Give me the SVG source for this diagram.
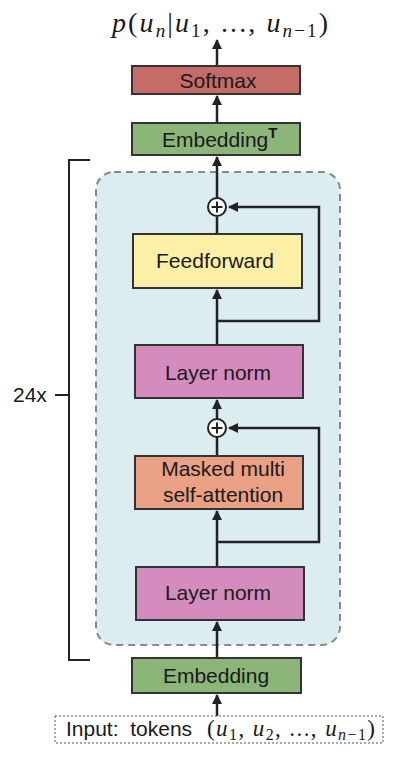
<svg xmlns="http://www.w3.org/2000/svg" width="402" height="758" viewBox="0 0 402 758">
<defs>
<style>
.box{stroke:#333;stroke-width:2}
.lbl{font-family:"Liberation Sans",Arial,sans-serif;font-size:21px;fill:#1a1a1a;text-anchor:middle}
.lbl.start{text-anchor:start}
.math{font-family:"Liberation Serif","Times New Roman",serif;font-style:italic;fill:#1a1a1a}
.up{font-style:normal}
.ln{stroke:#222;stroke-width:2.5;fill:none}
</style>
<marker id="ah" viewBox="0 0 10 10" refX="9" refY="5" markerWidth="4" markerHeight="4" orient="auto" markerUnits="strokeWidth">
<path d="M0,0 L10,5 L0,10 z" fill="#222"/>
</marker>
</defs>
<rect width="402" height="758" fill="#fff"/>

<g id="title">
<text class="math" x="112" y="32" font-size="28" textLength="216" lengthAdjust="spacing">p<tspan class="up">(</tspan>u<tspan font-size="19" dy="5">n</tspan><tspan class="up" dy="-5">|</tspan>u<tspan class="up" font-size="19" dy="5">1</tspan><tspan class="up" dy="-5">, ..., </tspan>u<tspan font-size="19" dy="5">n<tspan class="up">−1</tspan></tspan><tspan class="up" dy="-5">)</tspan></text>
</g>

<g id="bracket">
<path d="M90,160 H69 V660 H90 M55,395 H69" stroke="#222" stroke-width="2" fill="none"/>
<text x="13" y="402" font-family="Liberation Sans,Arial,sans-serif" font-size="21" fill="#1a1a1a">24x</text>
</g>

<g id="block">
<rect x="96" y="172" width="244" height="473" rx="18" fill="#dcedf1" stroke="#8a8a8a" stroke-width="2" stroke-dasharray="7,5"/>
</g>

<g id="connectors">
<line class="ln" x1="217" y1="66" x2="217" y2="40" marker-end="url(#ah)"/>
<line class="ln" x1="217" y1="123" x2="217" y2="96" marker-end="url(#ah)"/>
<line class="ln" x1="217" y1="198" x2="217" y2="157" marker-end="url(#ah)"/>
<line class="ln" x1="217" y1="234" x2="217" y2="217"/>
<line class="ln" x1="217" y1="345" x2="217" y2="290" marker-end="url(#ah)"/>
<polyline class="ln" points="217,321 319,321 319,207 229,207" marker-end="url(#ah)"/>
<line class="ln" x1="217" y1="419" x2="217" y2="400" marker-end="url(#ah)"/>
<line class="ln" x1="217" y1="456" x2="217" y2="437"/>
<line class="ln" x1="217" y1="567" x2="217" y2="511" marker-end="url(#ah)"/>
<polyline class="ln" points="217,542 319,542 319,428 229,428" marker-end="url(#ah)"/>
<line class="ln" x1="217" y1="658" x2="217" y2="622" marker-end="url(#ah)"/>
<line class="ln" x1="217" y1="716" x2="217" y2="695" marker-end="url(#ah)"/>
</g>

<g id="softmax">
<rect class="box" x="132" y="66" width="168" height="28" fill="#c56b68"/>
<text class="lbl" x="218" y="88">Softmax</text>
</g>

<g id="embedding-t">
<rect class="box" x="132" y="123" width="168" height="32" fill="#8cb57a"/>
<text class="lbl start" x="162" y="147">Embedding<tspan font-size="15" font-weight="bold" dy="-9">T</tspan></text>
</g>

<g id="add2">
<circle cx="217" cy="207" r="9" fill="#fff" stroke="#222" stroke-width="2"/>
<path d="M211.5,207 H222.5 M217,201.5 V212.5" stroke="#222" stroke-width="2"/>
</g>

<g id="feedforward">
<rect class="box" x="133" y="234" width="169" height="54" fill="#fcefa6"/>
<text class="lbl" x="215" y="268">Feedforward</text>
</g>

<g id="layernorm2">
<rect class="box" x="135" y="345" width="168" height="53" fill="#d48bbd"/>
<text class="lbl" x="218" y="380">Layer norm</text>
</g>

<g id="add1">
<circle cx="217" cy="428" r="9" fill="#fff" stroke="#222" stroke-width="2"/>
<path d="M211.5,428 H222.5 M217,422.5 V433.5" stroke="#222" stroke-width="2"/>
</g>

<g id="attention">
<rect class="box" x="135" y="456" width="168" height="53" fill="#e9a084"/>
<text class="lbl" x="223" y="476">Masked multi</text>
<text class="lbl" x="223" y="502">self-attention</text>
</g>

<g id="layernorm1">
<rect class="box" x="136" y="567" width="168" height="53" fill="#d48bbd"/>
<text class="lbl" x="218" y="600">Layer norm</text>
</g>

<g id="embedding">
<rect class="box" x="132" y="658" width="169" height="35" fill="#8cb57a"/>
<text class="lbl" x="216" y="683">Embedding</text>
</g>

<g id="input">
<rect x="55" y="716" width="328" height="27" fill="#fff" stroke="#555" stroke-width="1" stroke-dasharray="2,2"/>
<text x="66" y="736" font-family="Liberation Sans,Arial,sans-serif" font-size="21" fill="#1a1a1a" xml:space="preserve">Input:  tokens</text>
<text class="math" x="207" y="736" font-size="23" textLength="168" lengthAdjust="spacing"><tspan class="up">(</tspan>u<tspan class="up" font-size="16" dy="4">1</tspan><tspan class="up" dy="-4">, </tspan>u<tspan class="up" font-size="16" dy="4">2</tspan><tspan class="up" dy="-4">, ..., </tspan>u<tspan font-size="16" dy="4">n<tspan class="up">−1</tspan></tspan><tspan class="up" dy="-4">)</tspan></text>
</g>
</svg>
